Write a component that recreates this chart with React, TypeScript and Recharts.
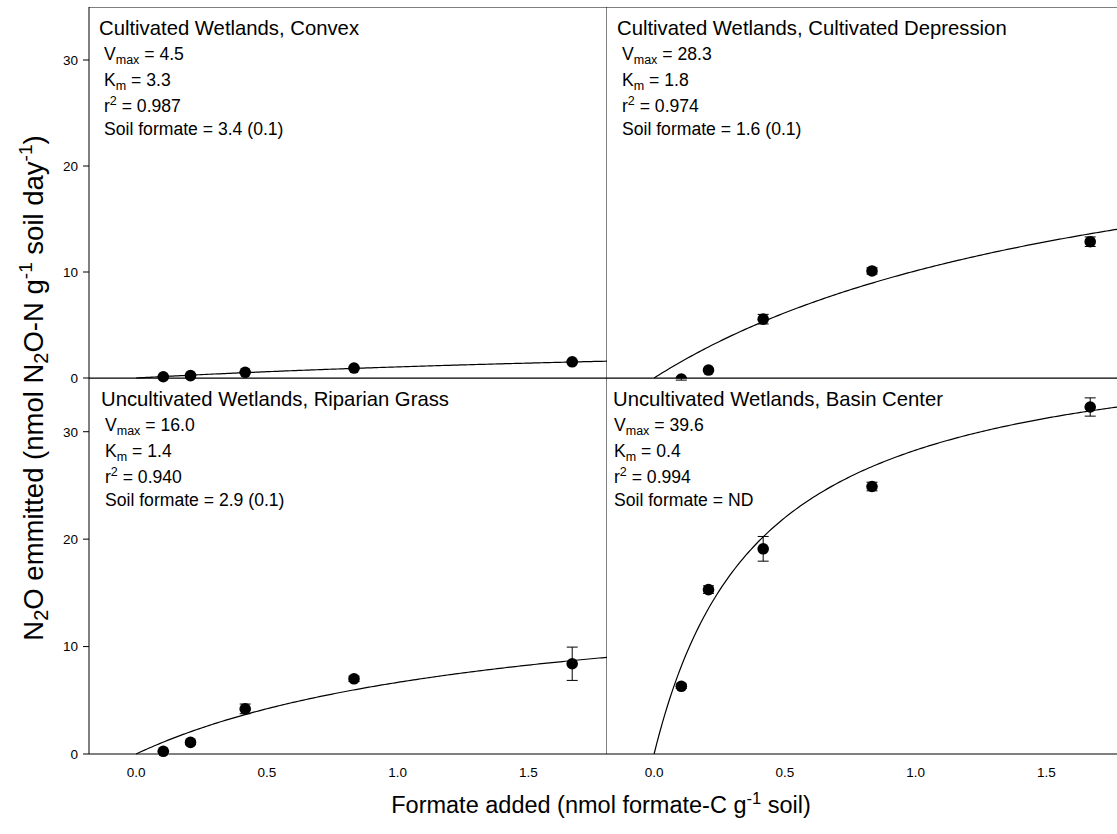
import React from 'react';
import { ComposedChart, Line, Scatter, XAxis, YAxis, ErrorBar, ReferenceLine } from 'recharts';

// ---- data ----
const formateAdded = [0.104, 0.208, 0.417, 0.833, 1.667];

const convexN2O = [0.12, 0.22, 0.54, 0.94, 1.53];
const convexErr = [0.05, 0.05, 0.05, 0.08, 0.1];

const depressionN2O = [-0.1, 0.75, 5.55, 10.1, 12.86];
const depressionErr = [0.1, 0.15, 0.45, 0.3, 0.45];

const riparianN2O = [0.25, 1.08, 4.2, 7.0, 8.4];
const riparianErr = [0.1, 0.2, 0.45, 0.25, 1.55];

const basinN2O = [6.3, 15.3, 19.1, 24.9, 32.3];
const basinErr = [0.2, 0.35, 1.15, 0.4, 0.85];

const panelTitles = [
  'Cultivated Wetlands, Convex',
  'Cultivated Wetlands, Cultivated Depression',
  'Uncultivated Wetlands, Riparian Grass',
  'Uncultivated Wetlands, Basin Center',
];
const vmaxValues = [4.5, 28.3, 16.0, 39.6];
const kmValues = [3.3, 1.8, 1.4, 0.4];
const r2Labels = ['0.987', '0.974', '0.940', '0.994'];
const soilFormateLabels = ['3.4 (0.1)', '1.6 (0.1)', '2.9 (0.1)', 'ND'];

const xTicks = [0, 0.5, 1.0, 1.5];
const yTicks = [0, 10, 20, 30];
const xDomain: [number, number] = [-0.18, 1.8];
const yDomain: [number, number] = [0, 35];

// Michaelis-Menten fit curve drawn from the fitted Vmax / Km shown on each panel
const curveX = Array.from({ length: 181 }, (_, i) => i * 0.01);
const fitCurve = (vmax: number, km: number) =>
  curveX.map((x) => ({ x, y: (vmax * x) / (km + x) }));

const pts = (ys: number[], errs: number[]) =>
  formateAdded.map((x, i) => ({ x, y: ys[i], err: errs[i] }));

const FONT = '"Liberation Sans", Arial, Helvetica, sans-serif';

const Dot = (props: any) =>
  props.cx == null ? null : <circle cx={props.cx} cy={props.cy} r={5.8} fill="#000" />;

type PanelProps = {
  left: number;
  top: number;
  width: number;
  height: number;
  xAxisHeight: number;
  yLabels: boolean;
  xLabels: boolean;
  points: { x: number; y: number; err: number }[];
  curve: { x: number; y: number }[];
  overflow?: boolean;
};

function Panel({ left, top, width, height, xAxisHeight, yLabels, xLabels, points, curve, overflow }: PanelProps) {
  return (
    <div style={{ position: 'absolute', left, top }}>
      <ComposedChart width={width} height={height} margin={{ top: 0, right: 0, bottom: 0, left: 0 }}>
        <XAxis
          type="number"
          dataKey="x"
          domain={xDomain}
          ticks={xTicks}
          allowDataOverflow
          height={xAxisHeight}
          tick={xLabels ? { fill: '#000', fontSize: 13.5, fontFamily: FONT } : false}
          tickFormatter={(v: number) => v.toFixed(1)}
          tickLine={false}
          tickSize={6}
          tickMargin={7}
          axisLine={{ stroke: '#000', strokeWidth: 1 }}
        />
        <YAxis
          type="number"
          dataKey="y"
          domain={yDomain}
          ticks={yTicks}
          allowDataOverflow={!!overflow}
          width={yLabels ? 40 : 0}
          tick={yLabels ? { fill: '#000', fontSize: 13.5, fontFamily: FONT } : false}
          tickLine={yLabels ? { stroke: '#000' } : false}
          tickSize={6}
          tickMargin={5}
          interval={0}
          axisLine={{ stroke: '#000', strokeWidth: 1 }}
        />
        <ReferenceLine y={35} stroke="#000" strokeWidth={1} />
        <ReferenceLine x={1.8} stroke="#000" strokeWidth={1} />
        <Line
          data={curve}
          dataKey="y"
          type="linear"
          dot={false}
          activeDot={false}
          stroke="#000"
          strokeWidth={1.2}
          isAnimationActive={false}
        />
        <Scatter data={points} dataKey="y" shape={Dot} isAnimationActive={false}>
          <ErrorBar dataKey="err" direction="y" width={5.5} stroke="#000" strokeWidth={1} />
        </Scatter>
      </ComposedChart>
    </div>
  );
}

function Stats({ x, y, idx, titleX }: { x: number; y: number; idx: number; titleX: number }) {
  const fs = 17.6;
  const small = 12.5;
  return (
    <g fontFamily={FONT} fill="#000">
      <text x={titleX} y={y + 28} fontSize={20.3}>{panelTitles[idx]}</text>
      <text x={x} y={y + 53} fontSize={fs}>
        V<tspan fontSize={small} dy={4}>max</tspan>
        <tspan dy={-4}>{` = ${vmaxValues[idx].toFixed(1)}`}</tspan>
      </text>
      <text x={x} y={y + 79} fontSize={fs}>
        K<tspan fontSize={small} dy={4}>m</tspan>
        <tspan dy={-4}>{` = ${kmValues[idx].toFixed(1)}`}</tspan>
      </text>
      <text x={x} y={y + 105} fontSize={fs}>
        r<tspan fontSize={small} dy={-7}>2</tspan>
        <tspan dy={7}>{` = ${r2Labels[idx]}`}</tspan>
      </text>
      <text x={x} y={y + 128} fontSize={fs}>{`Soil formate = ${soilFormateLabels[idx]}`}</text>
    </g>
  );
}

export default function App() {
  return (
    <div
      style={{
        position: 'absolute',
        left: 0,
        top: 0,
        width: 1117,
        height: 834,
        overflow: 'hidden',
        background: '#fff',
        fontFamily: FONT,
      }}
    >
      <Panel left={49} top={7} width={558} height={383} xAxisHeight={12} yLabels xLabels={false}
        points={pts(convexN2O, convexErr)} curve={fitCurve(vmaxValues[0], kmValues[0])} />
      <Panel left={607} top={7} width={518} height={383} xAxisHeight={12} yLabels={false} xLabels={false} overflow
        points={pts(depressionN2O, depressionErr)} curve={fitCurve(vmaxValues[1], kmValues[1])} />
      <Panel left={49} top={378} width={558} height={426} xAxisHeight={50} yLabels xLabels
        points={pts(riparianN2O, riparianErr)} curve={fitCurve(vmaxValues[2], kmValues[2])} />
      <Panel left={607} top={378} width={518} height={426} xAxisHeight={50} yLabels={false} xLabels
        points={pts(basinN2O, basinErr)} curve={fitCurve(vmaxValues[3], kmValues[3])} />

      <svg
        width={1117}
        height={834}
        style={{ position: 'absolute', left: 0, top: 0, pointerEvents: 'none' }}
      >
        <Stats idx={0} titleX={99} x={104} y={7} />
        <Stats idx={1} titleX={617} x={622} y={7} />
        <Stats idx={2} titleX={101} x={105} y={378} />
        <Stats idx={3} titleX={613} x={614} y={378} />

        <text x={601} y={813} textAnchor="middle" fontFamily={FONT} fontSize={23.5} fill="#000">
          Formate added (nmol formate-C g<tspan fontSize={16.5} dy={-9}>-1</tspan>
          <tspan dy={9}> soil)</tspan>
        </text>

        <text
          transform="translate(43,388) rotate(-90)"
          textAnchor="middle"
          fontFamily={FONT}
          fontSize={27.5}
          fill="#000"
        >
          N<tspan fontSize={20} dy={5}>2</tspan>
          <tspan dy={-5}>O emmitted (nmol N</tspan>
          <tspan fontSize={20} dy={5}>2</tspan>
          <tspan dy={-5}>O-N g</tspan>
          <tspan fontSize={19} dy={-11}>-1</tspan>
          <tspan dy={11}> soil day</tspan>
          <tspan fontSize={19} dy={-11}>-1</tspan>
          <tspan dy={11}>)</tspan>
        </text>
      </svg>
    </div>
  );
}
